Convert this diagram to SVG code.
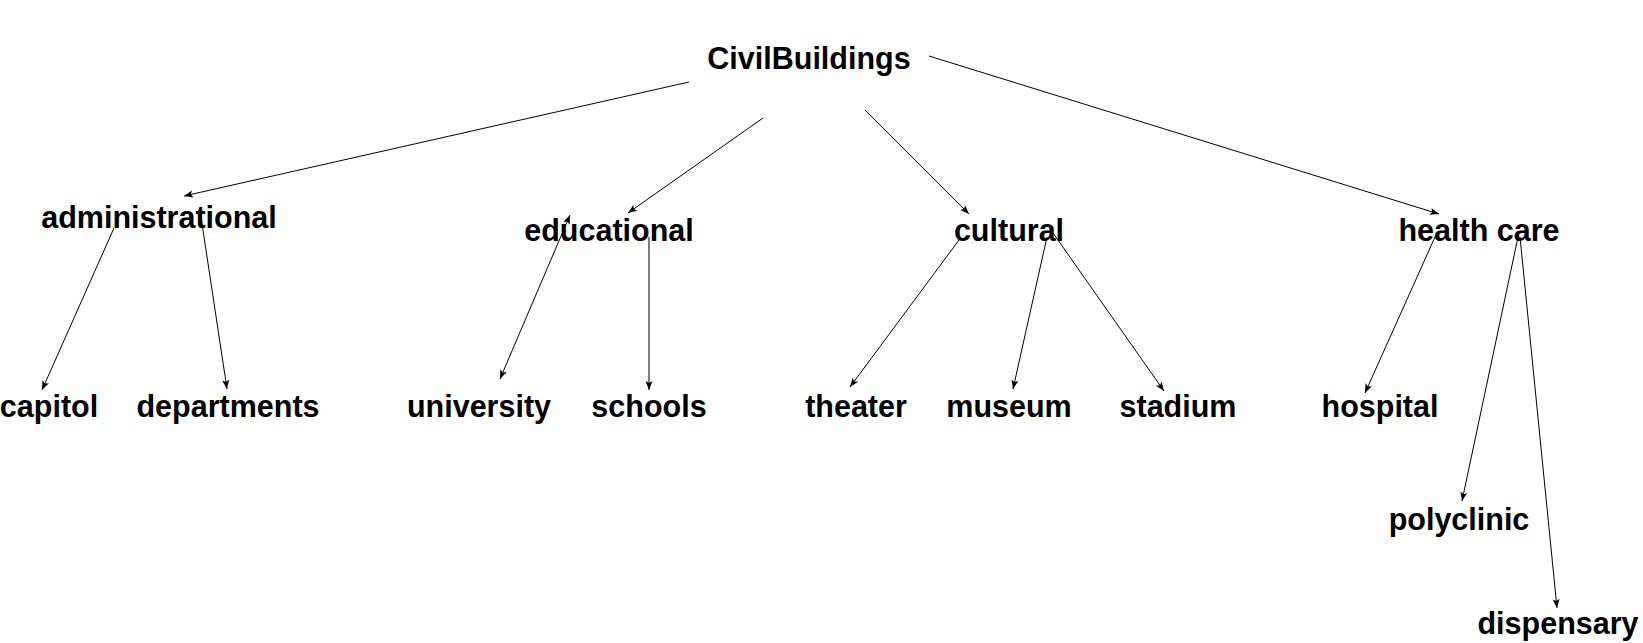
<svg xmlns="http://www.w3.org/2000/svg" width="1643" height="643" viewBox="0 0 1643 643">
<style>
text{font-family:"Liberation Sans",Arial,sans-serif;font-weight:bold;font-size:30.5px;fill:#000;text-anchor:middle}
.e line{stroke:#000;stroke-width:1;fill:none;marker-end:url(#ah)}
</style>
<defs>
<marker id="ah" viewBox="-10 -4 11 8" refX="0" refY="0" markerWidth="11" markerHeight="8" markerUnits="userSpaceOnUse" orient="auto">
<path d="M0,0 L-9,-3.5 L-7,0 L-9,3.5 z" fill="#000"/>
</marker>
<marker id="ahs" viewBox="-1 -4 11 8" refX="0" refY="0" markerWidth="11" markerHeight="8" markerUnits="userSpaceOnUse" orient="auto">
<path d="M0,0 L9,-3.5 L7,0 L9,3.5 z" fill="#000"/>
</marker>
</defs>
<rect width="1643" height="643" fill="#fff"/>
<g id="connectors" class="e">
<line x1="689" y1="82" x2="184" y2="196"/>
<line x1="763" y1="118" x2="628" y2="213"/>
<line x1="865" y1="110" x2="969" y2="214"/>
<line x1="929" y1="56" x2="1439" y2="214"/>
<line x1="114" y1="228" x2="42" y2="390"/>
<line x1="201" y1="217" x2="227" y2="389"/>
<line x1="570" y1="215" x2="500" y2="379" marker-start="url(#ahs)"/>
<line x1="649" y1="237" x2="649" y2="390"/>
<line x1="959" y1="240" x2="850" y2="387"/>
<line x1="1047" y1="237" x2="1013" y2="389"/>
<line x1="1053" y1="233" x2="1164" y2="391"/>
<line x1="1435" y1="237" x2="1365" y2="393"/>
<line x1="1518" y1="237" x2="1462" y2="501"/>
<line x1="1520" y1="237" x2="1557" y2="608"/>
</g>
<g id="CivilBuildings"><text x="809" y="69">CivilBuildings</text></g>
<g id="administrational"><text x="159" y="228">administrational</text></g>
<g id="educational"><text x="609" y="241">educational</text></g>
<g id="cultural"><text x="1009" y="241">cultural</text></g>
<g id="healthcare"><text x="1479" y="241">health care</text></g>
<g id="capitol"><text x="49" y="417">capitol</text></g>
<g id="departments"><text x="228" y="417">departments</text></g>
<g id="university"><text x="479" y="417">university</text></g>
<g id="schools"><text x="649" y="417">schools</text></g>
<g id="theater"><text x="856" y="417">theater</text></g>
<g id="museum"><text x="1009" y="417">museum</text></g>
<g id="stadium"><text x="1178" y="417">stadium</text></g>
<g id="hospital"><text x="1380" y="417">hospital</text></g>
<g id="polyclinic"><text x="1459" y="530">polyclinic</text></g>
<g id="dispensary"><text x="1558" y="634">dispensary</text></g>
</svg>
